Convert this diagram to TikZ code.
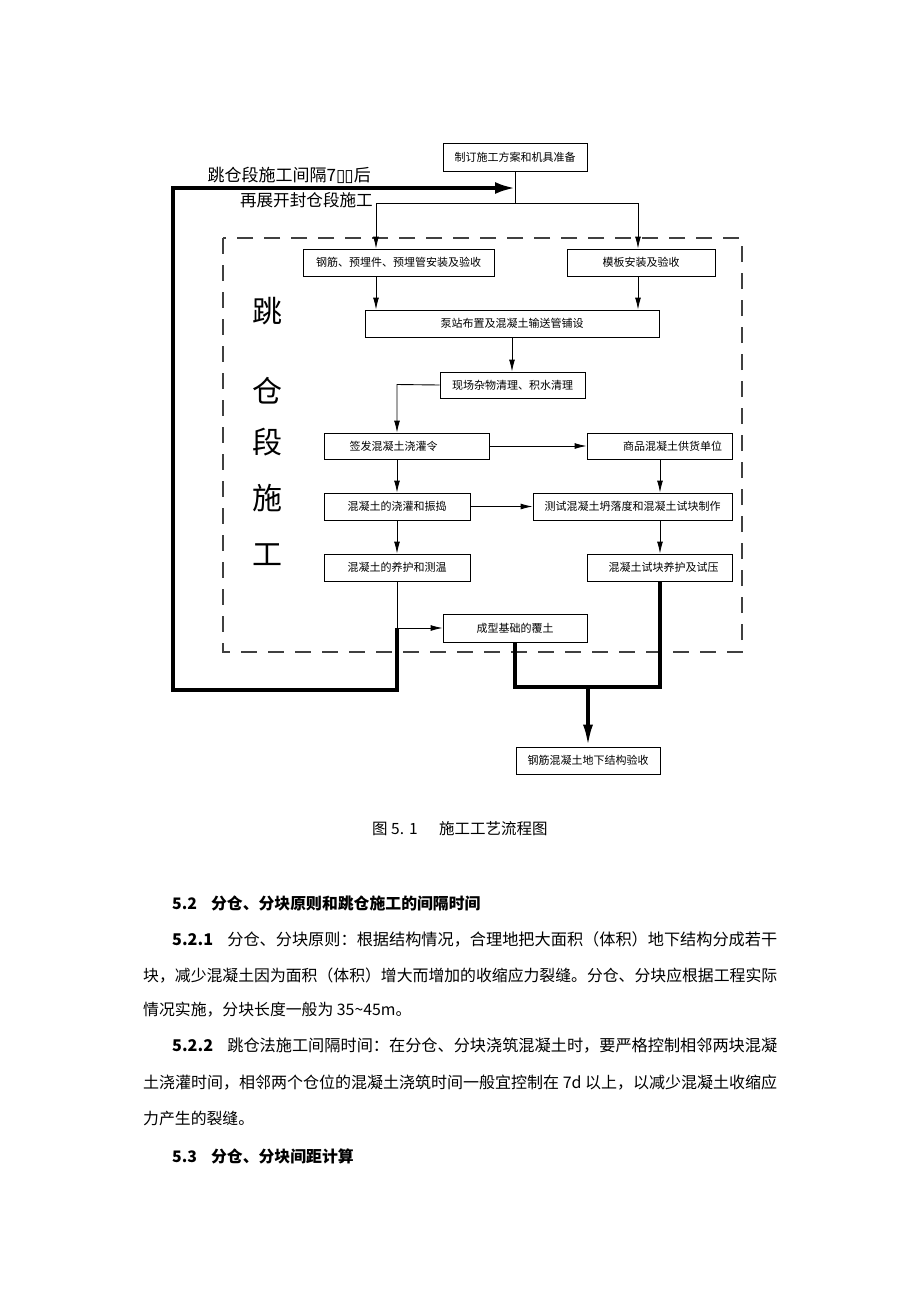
\documentclass[tikz,border=0pt]{standalone}
\usepackage{fontspec}
\usepackage{graphicx}
\usetikzlibrary{arrows.meta}
\setmainfont{Noto Sans CJK SC}
\newfontfamily\cjk{Noto Sans CJK SC}
\newfontfamily\symfont{DejaVu Sans}
\newcommand{\fitline}[2]{\resizebox{#1}{!}{#2}}
\begin{document}
\begin{tikzpicture}[x=1pt,y=-1pt,
  box/.style={draw, line width=0.9pt, inner sep=0pt, font=\cjk\fontsize{11}{13}\selectfont},
  arr/.style={line width=0.9pt, -{Latex[length=12pt,width=6pt]}},
  thk/.style={line width=3.5pt, line join=miter},
  tarr/.style={line width=3.5pt, -{Latex[length=22pt,width=10pt]}},
  body/.style={anchor=west, inner sep=0pt, font=\cjk\fontsize{15.85}{18}\selectfont},
  head/.style={anchor=west, inner sep=0pt, font=\cjk\bfseries\fontsize{15.85}{18}\selectfont},
  big/.style={inner sep=0pt, font=\cjk\fontsize{30}{32}\selectfont}]
\fill[white] (0,0) rectangle (920,1302);
\useasboundingbox (0,0) rectangle (920,1302);

% dashed frame
\draw[dash pattern=on 16pt off 11pt, line width=1.1pt, black!75] (223,238) rectangle (742,652);

% boxes
\node[box, minimum width=144pt, minimum height=28pt] (b1) at (515,157) {制订施工方案和机具准备};
\node[box, minimum width=191pt, minimum height=27pt] (b2) at (398.5,262.5) {钢筋、预埋件、预埋管安装及验收};
\node[box, minimum width=148pt, minimum height=27pt] (b3) at (641,262.5) {模板安装及验收};
\node[box, minimum width=294pt, minimum height=27pt] (b4) at (512,323.5) {泵站布置及混凝土输送管铺设};
\node[box, minimum width=145pt, minimum height=26pt] (b5) at (512.5,385) {现场杂物清理、积水清理};
\node[box, minimum width=165pt, minimum height=26pt] (b6) at (406.5,446) {\hspace*{-26pt}签发混凝土浇灌令};
\node[box, minimum width=145pt, minimum height=26pt] (b7) at (659.5,446) {\hspace*{26pt}商品混凝土供货单位};
\node[box, minimum width=146pt, minimum height=27pt] (b8) at (397,506.5) {混凝土的浇灌和振捣};
\node[box, minimum width=199pt, minimum height=27pt] (b9) at (632.5,506.5) {测试混凝土坍落度和混凝土试块制作};
\node[box, minimum width=146pt, minimum height=27pt] (b10) at (397,567.5) {混凝土的养护和测温};
\node[box, minimum width=145pt, minimum height=27pt] (b11) at (659.5,567.5) {\hspace*{8pt}混凝土试块养护及试压};
\node[box, minimum width=144pt, minimum height=28pt] (b12) at (515,628) {成型基础的覆土};
\node[box, minimum width=144pt, minimum height=27pt] (b13) at (588,760.5) {钢筋混凝土地下结构验收};

% junction coordinates
\coordinate (j1) at (515,203);
\coordinate (j1l) at (376,203);
\coordinate (j1r) at (638,203);
\coordinate (c5) at (397,384.5);
\coordinate (x7) at (660,446);
\coordinate (c10) at (397,628);
\coordinate (l1) at (397,690);
\coordinate (l2) at (173,690);
\coordinate (l3) at (173,188);
\coordinate (j0) at (515,188);
\coordinate (r1) at (515,687);
\coordinate (r2) at (660,687);
\coordinate (m1) at (588,687);

% thin connectors
\draw[line width=0.9pt] (b1.south) -- (j1);
\draw[arr] (j1) -- (j1l) -- (j1l |- b2.north);
\draw[arr] (j1) -- (j1r) -- (j1r |- b3.north);
\draw[arr] (j1l |- b2.south) -- (j1l |- b4.north);
\draw[arr] (j1r |- b3.south) -- (j1r |- b4.north);
\draw[arr] (b4.south) -- (b4.south |- b5.north);
\draw[arr] (b5.west) -- (c5) -- (c5 |- b6.north);
\draw[arr] (b6.east) -- (b7.west);
\draw[arr] (c5 |- b6.south) -- (c5 |- b8.north);
\draw[arr] (x7 |- b7.south) -- (x7 |- b9.north);
\draw[arr] (b8.east) -- (b8.east -| b9.west);
\draw[arr] (b8.south) -- (b10.north);
\draw[arr] (x7 |- b9.south) -- (x7 |- b11.north);
\draw[arr] (b10.south) -- (c10) -- (b12.west);

% thick connectors
\draw[thk, -{Latex[length=20pt,width=12pt]}] (c10) -- (l1) -- (l2) -- (l3) -- (j0);
\draw[thk] (b12.south) -- (r1) -- (r2) -- (r2 |- b11.south);
\draw[tarr] (m1) -- (b13.north);

% top-left labels
\node[anchor=east, inner sep=0pt, font=\cjk\fontsize{17}{19}\selectfont] (t1) at (371,175) {跳仓段施工间隔7{\symfont\fontsize{17}{19}\selectfont ▯\kern-1pt▯}后};
\node[anchor=east, inner sep=0pt, font=\cjk\fontsize{16.6}{19}\selectfont] (t2) at (373,200) {再展开封仓段施工};

% vertical label
\node[big] (v1) at (267,311) {跳};
\node[big] (v2) at (267,391) {仓};
\node[big] (v3) at (267,442) {段};
\node[big] (v4) at (267,498) {施};
\node[big] (v5) at (267,555) {工};

% caption
\node[body, font=\cjk\fontsize{15.5}{18}\selectfont] (cap1) at (372,829) {图 5.\hspace{5pt}1};
\node[body, font=\cjk\fontsize{15.5}{18}\selectfont] (cap2) at (439,829) {施工工艺流程图};

% body text
\node[head] (h1) at (172,903) {5.2\hspace{14pt}分仓、分块原则和跳仓施工的间隔时间};
\node[body] (p1) at (172,939) {\fitline{605pt}{{\bfseries 5.2.1}\hspace{14pt}分仓、分块原则：根据结构情况，合理地把大面积（体积）地下结构分成若干}};
\node[body] (p2) at (143,976) {\fitline{634pt}{块，减少混凝土因为面积（体积）增大而增加的收缩应力裂缝。分仓、分块应根据工程实际}};
\node[body] (p3) at (143,1010) {情况实施，分块长度一般为 35\textasciitilde45m。};
\node[body] (p4) at (172,1046) {\fitline{605pt}{{\bfseries 5.2.2}\hspace{14pt}跳仓法施工间隔时间：在分仓、分块浇筑混凝土时，要严格控制相邻两块混凝}};
\node[body] (p5) at (143,1083) {\fitline{634pt}{土浇灌时间，相邻两个仓位的混凝土浇筑时间一般宜控制在 7d 以上，以减少混凝土收缩应}};
\node[body] (p6) at (143,1118) {力产生的裂缝。};
\node[head] (h2) at (172,1156) {5.3\hspace{14pt}分仓、分块间距计算};
\end{tikzpicture}
\end{document}
